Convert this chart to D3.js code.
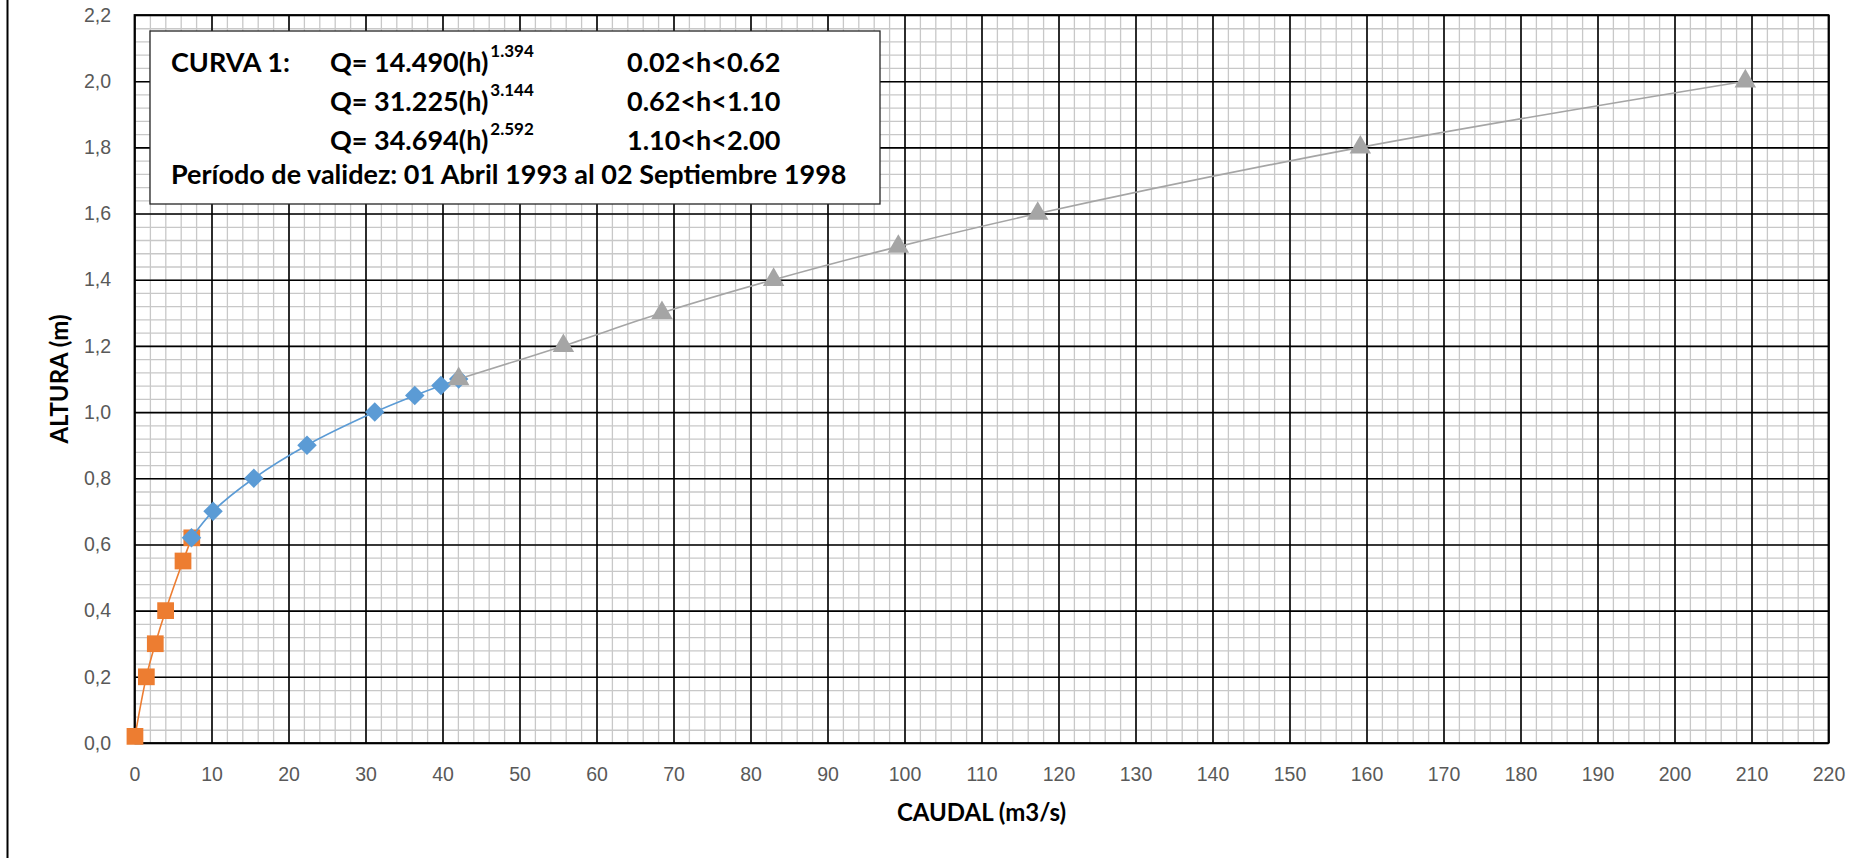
<!DOCTYPE html>
<html>
<head>
<meta charset="utf-8">
<script src="https://cdn.jsdelivr.net/npm/d3@7"></script>
<style>
  body { margin: 0; background: #fff; }
  svg { display: block; font-family: Lato, "Open Sans", sans-serif; }
</style>
</head>
<body>
<div class="chartArea"></div>
<script>
// curve 1 (orange squares)
const hCurve1 = [0.02, 0.2, 0.3, 0.4, 0.55, 0.62];
const qCurve1 = [0.06, 1.54, 2.70, 4.04, 6.30, 7.44];
// curve 2 (blue diamonds)
const hCurve2 = [0.62, 0.7, 0.8, 0.9, 1.0, 1.05, 1.08, 1.1];
const qCurve2 = [7.4, 10.2, 15.5, 22.4, 31.2, 36.4, 39.8, 42.1];
// curve 3 (grey triangles)
const hCurve3 = [1.1, 1.2, 1.3, 1.4, 1.5, 1.6, 1.8, 2.0];
const qCurve3 = [42.1, 55.7, 68.5, 83.0, 99.2, 117.3, 159.2, 209.2];

const xTicks = d3.range(0, 221, 10);
const yTicks = [0, 0.2, 0.4, 0.6, 0.8, 1.0, 1.2, 1.4, 1.6, 1.8, 2.0, 2.2];

const legendLines = [
  ["Q= 14.490(h)", "1.394", "0.02<h<0.62"],
  ["Q= 31.225(h)", "3.144", "0.62<h<1.10"],
  ["Q= 34.694(h)", "2.592", "1.10<h<2.00"]
];
const legendTitle = "CURVA 1:";
const legendPeriod = "Período de validez: 01 Abril 1993 al 02 Septiembre 1998";

const width = 1872;
const height = 858;
const margin = {top: 15, right: 43.5, bottom: 115, left: 134.5};
const innerW = width - margin.left - margin.right;
const innerH = height - margin.top - margin.bottom;

const xScale = d3.scaleLinear().domain([0, 220]).range([margin.left, margin.left + innerW]);
const yScale = d3.scaleLinear().domain([0, 2.2]).range([margin.top + innerH, margin.top]);

const svg = d3.select(".chartArea")
  .append("svg")
  .attr("width", width)
  .attr("height", height);

// left border of the chart area
svg.append("line")
  .attr("x1", 7.5).attr("x2", 7.5)
  .attr("y1", 0).attr("y2", height)
  .attr("stroke", "#000")
  .attr("stroke-width", 2);

// minor grid
const minorX = d3.range(0, 220.001, 2);
const minorY = d3.range(0, 2.2001, 0.04);
svg.append("g")
  .attr("transform", `translate(0,${margin.top + innerH})`)
  .call(d3.axisBottom(xScale).tickValues(minorX).tickSize(-innerH).tickFormat(""))
  .call(g => g.select(".domain").remove())
  .call(g => g.selectAll("line").attr("stroke", "#c8c8c8").attr("stroke-width", 1.3));
svg.append("g")
  .attr("transform", `translate(${margin.left},0)`)
  .call(d3.axisLeft(yScale).tickValues(minorY).tickSize(-innerW).tickFormat(""))
  .call(g => g.select(".domain").remove())
  .call(g => g.selectAll("line").attr("stroke", "#c8c8c8").attr("stroke-width", 1.3));

// major grid
svg.append("g")
  .attr("transform", `translate(0,${margin.top + innerH})`)
  .call(d3.axisBottom(xScale).tickValues(xTicks).tickSize(-innerH).tickFormat(""))
  .call(g => g.select(".domain").remove())
  .call(g => g.selectAll("line").attr("stroke", "#000").attr("stroke-width", 1.6));
svg.append("g")
  .attr("transform", `translate(${margin.left},0)`)
  .call(d3.axisLeft(yScale).tickValues(yTicks).tickSize(-innerW).tickFormat(""))
  .call(g => g.select(".domain").remove())
  .call(g => g.selectAll("line").attr("stroke", "#000").attr("stroke-width", 1.6));

svg.append("rect")
  .attr("x", margin.left).attr("y", margin.top)
  .attr("width", innerW).attr("height", innerH)
  .attr("fill", "none")
  .attr("stroke", "#000")
  .attr("stroke-width", 1.8);

// tick labels
const comma = d3.formatLocale({decimal: ",", thousands: ".", grouping: [3], currency: ["", ""]});
svg.append("g")
  .attr("transform", `translate(0,${margin.top + innerH})`)
  .call(d3.axisBottom(xScale).tickValues(xTicks).tickSize(0).tickPadding(24))
  .call(g => g.select(".domain").remove())
  .call(g => g.selectAll("text").attr("fill", "#595959").style("font-size", "19.5px"));
svg.append("g")
  .attr("transform", `translate(${margin.left},0)`)
  .call(d3.axisLeft(yScale).tickValues(yTicks).tickSize(0).tickPadding(23.5).tickFormat(comma.format(".1f")))
  .call(g => g.select(".domain").remove())
  .call(g => g.selectAll("text").attr("fill", "#595959").style("font-size", "19.5px"));

// axis titles
svg.append("text")
  .attr("x", margin.left + innerW / 2)
  .attr("y", 821)
  .attr("text-anchor", "middle")
  .style("font-size", "24px")
  .style("font-weight", "bold")
  .attr("fill", "#000")
  .text("CAUDAL (m3/s)");
svg.append("text")
  .attr("transform", `translate(68,${margin.top + innerH / 2}) rotate(-90)`)
  .attr("text-anchor", "middle")
  .style("font-size", "24px")
  .style("font-weight", "bold")
  .attr("fill", "#000")
  .text("ALTURA (m)");

// series
const line = d3.line()
  .x(d => xScale(d[0]))
  .y(d => yScale(d[1]))
  .curve(d3.curveCatmullRom.alpha(0.5));

const series = [
  {q: qCurve1, h: hCurve1, color: "#ED7D31", symbol: d3.symbolSquare, size: 280, rot: 0},
  {q: qCurve2, h: hCurve2, color: "#5B9BD5", symbol: d3.symbolSquare, size: 190, rot: 45},
  {q: qCurve3, h: hCurve3, color: "#A5A5A5", symbol: d3.symbolTriangle, size: 200, rot: 0}
];

series.forEach(s => {
  const pts = s.q.map((q, i) => [q, s.h[i]]);
  svg.append("path")
    .datum(pts)
    .attr("d", line)
    .attr("fill", "none")
    .attr("stroke", s.color)
    .attr("stroke-width", 1.6);
  svg.append("g")
    .selectAll("path")
    .data(pts)
    .enter()
    .append("path")
    .attr("d", d3.symbol().type(s.symbol).size(s.size))
    .attr("transform", d => `translate(${xScale(d[0])},${yScale(d[1])}) rotate(${s.rot})`)
    .attr("fill", s.color);
});

// equation box
const box = svg.append("g");
box.append("rect")
  .attr("x", 150).attr("y", 31)
  .attr("width", 730).attr("height", 173)
  .attr("fill", "#fff")
  .attr("stroke", "#262626")
  .attr("stroke-width", 1.3);

const boxFont = "27px";
box.append("text")
  .attr("x", 171).attr("y", 72)
  .style("font-size", boxFont).style("font-weight", "bold")
  .text(legendTitle);

legendLines.forEach((l, i) => {
  const y = 72 + i * 38.8;
  const t = box.append("text")
    .attr("x", 330).attr("y", y)
    .style("font-size", boxFont).style("font-weight", "bold");
  t.append("tspan").text(l[0]);
  t.append("tspan").attr("dx", 2).attr("dy", -15).style("font-size", "17px").text(l[1]);
  box.append("text")
    .attr("x", 627).attr("y", y)
    .style("font-size", boxFont).style("font-weight", "bold")
    .text(l[2]);
});

box.append("text")
  .attr("x", 171).attr("y", 184)
  .style("font-size", boxFont).style("font-weight", "bold")
  .text(legendPeriod);
</script>
</body>
</html>
